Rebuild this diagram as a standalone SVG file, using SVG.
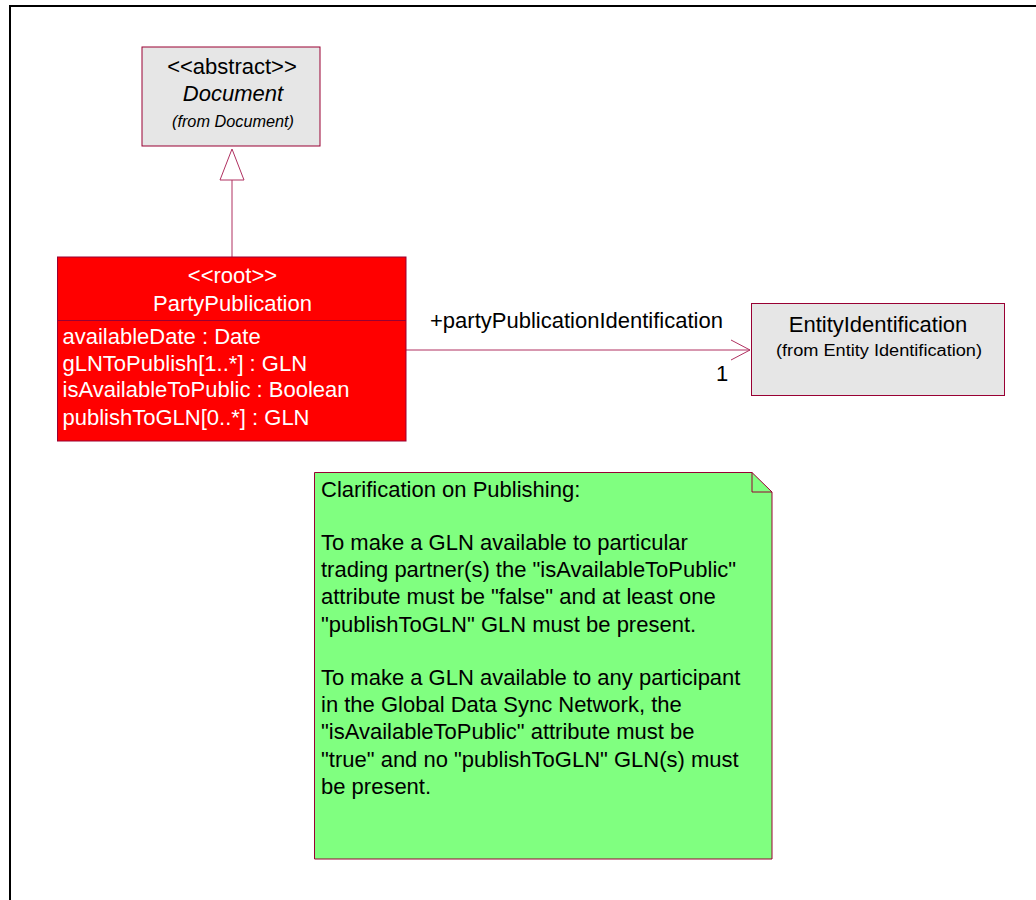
<svg xmlns="http://www.w3.org/2000/svg" width="1036" height="900" viewBox="0 0 1036 900">
<style>
text{font-family:"Liberation Sans",Arial,sans-serif;}
.box{stroke:#990033;stroke-width:1}
.gray{fill:#E6E6E6}
.t22{font-size:22px}
.t16{font-size:16px}
.c{text-anchor:middle}
.it{font-style:italic}
.w{fill:#FFFFFF}
.k{fill:#000000}
.conn{stroke:#B03060;stroke-width:1;fill:none}
</style>
<rect x="0" y="0" width="1036" height="900" fill="#FFFFFF"/>
<path d="M10,910 V6 H1046" fill="none" stroke="#000000" stroke-width="2"/>
<g id="connectors">
<line class="conn" x1="232" y1="180" x2="232" y2="257"/>
<polygon class="conn" points="232,149 220,180 244,180" fill="#FFFFFF"/>
<line class="conn" x1="406" y1="350" x2="750" y2="350"/>
<polyline class="conn" points="731,340 750,350 731,360"/>
<text class="t22 k" x="430" y="328">+partyPublicationIdentification</text>
<text class="t22 k" x="716" y="381">1</text>
</g>
<g id="Document">
<rect class="box gray" x="142" y="47" width="178" height="99"/>
<text class="t22 k c" x="232" y="74">&lt;&lt;abstract&gt;&gt;</text>
<text class="t22 k c it" x="233" y="101">Document</text>
<text class="t16 k c it" x="233" y="127" textLength="122" lengthAdjust="spacingAndGlyphs">(from Document)</text>
</g>
<g id="PartyPublication">
<rect class="box" x="57.5" y="257" width="348.5" height="184" fill="#FF0000"/>
<line class="box" x1="57.5" y1="320.5" x2="406" y2="320.5"/>
<text class="t22 w c" x="232.5" y="283">&lt;&lt;root&gt;&gt;</text>
<text class="t22 w c" x="232.5" y="311">PartyPublication</text>
<text class="t22 w" x="62.5" y="344">availableDate : Date</text>
<text class="t22 w" x="62.5" y="371">gLNToPublish[1..*] : GLN</text>
<text class="t22 w" x="62.5" y="397">isAvailableToPublic : Boolean</text>
<text class="t22 w" x="62.5" y="425">publishToGLN[0..*] : GLN</text>
</g>
<g id="EntityIdentification">
<rect class="box gray" x="751.5" y="303.5" width="253" height="92"/>
<text class="t22 k c" x="878" y="332">EntityIdentification</text>
<text class="t16 k c" x="879" y="356" textLength="206" lengthAdjust="spacingAndGlyphs">(from Entity Identification)</text>
</g>
<g id="Note">
<path class="box" d="M314.5,472.5 H752 L772,492 V859 H314.5 Z" fill="#80FF80"/>
<path class="box" d="M752,472.5 V492 H772" fill="none"/>
<g class="t22 k">
<text x="321" y="497">Clarification on Publishing:</text>
<text x="321" y="550">To make a GLN available to particular</text>
<text x="321" y="577">trading partner(s) the "isAvailableToPublic"</text>
<text x="321" y="604">attribute must be "false" and at least one</text>
<text x="321" y="632">"publishToGLN" GLN must be present.</text>
<text x="321" y="685">To make a GLN available to any participant</text>
<text x="321" y="712">in the Global Data Sync Network, the</text>
<text x="321" y="739">"isAvailableToPublic" attribute must be</text>
<text x="321" y="767">"true" and no "publishToGLN" GLN(s) must</text>
<text x="321" y="794">be present.</text>
</g>
</g>
</svg>
